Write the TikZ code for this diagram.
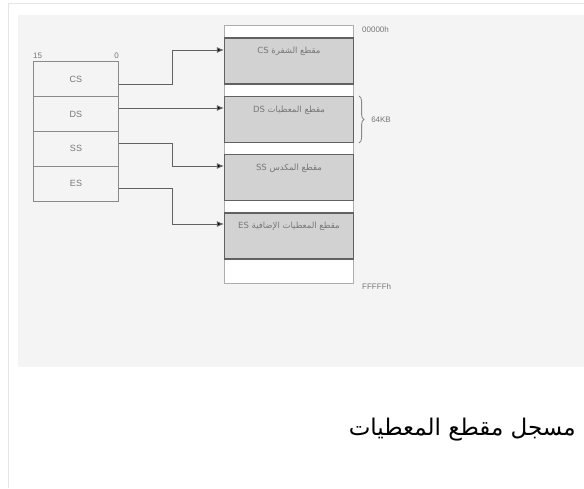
\documentclass[tikz,border=0pt]{standalone}
\usepackage{fontspec}
\setmainfont{Liberation Sans}
\newfontfamily\arabicfont[Script=Arabic]{DejaVu Sans}
\TeXXeTstate=1
\usetikzlibrary{decorations.pathreplacing,arrows.meta}

\definecolor{panelgray}{HTML}{F4F4F4}
\definecolor{seggray}{HTML}{D2D2D2}
\definecolor{linegray}{HTML}{8A8A8A}
\definecolor{textgray}{HTML}{777777}

\tikzset{
  reg/.style={draw=linegray,line width=1pt,fill=panelgray,minimum width=85pt,minimum height=35pt,inner sep=0pt,font=\fontsize{9}{10}\selectfont,text=textgray},
  seg/.style={draw=linegray!70!black,line width=1.1pt,fill=seggray,minimum width=129pt,minimum height=46pt,inner sep=0pt},
  seglabel/.style={font=\arabicfont\fontsize{8.5}{10}\selectfont,text=textgray,inner sep=0pt},
  addr/.style={font=\fontsize{8}{9}\selectfont,text=textgray,anchor=west,inner sep=0pt},
  link/.style={draw=linegray!70!black,line width=1pt,-{Latex[length=7pt,width=6pt,fill=black]}}
}

\begin{document}
\begin{tikzpicture}[x=1pt,y=-1pt]
  \useasboundingbox (0,0) rectangle (584,488);
  \fill[white] (0,0) rectangle (584,488);
  % frame and panel
  \draw[black!10,line width=0.8pt] (8,488) -- (8,3) -- (584,3);
  \fill[panelgray] (18,15) rectangle (584,367);

  % segment registers
  \node[reg] (cs) at (76,79) {CS};
  \node[reg] (ds) at (76,114) {DS};
  \node[reg] (ss) at (76,148.5) {SS};
  \node[reg] (es) at (76,183.5) {ES};
  \node[addr,anchor=south west] (msb) at ([yshift=2pt]cs.north west) {15};
  \node[addr,anchor=south east] (lsb) at ([yshift=2pt]cs.north east) {0};

  % memory column
  \node[draw=linegray!70,line width=1pt,fill=white,minimum width=129pt,minimum height=258pt,inner sep=0pt] (mem) at (289,154.5) {};
  \node[seg] (cseg) at (289,61) {};
  \node[seg] (dseg) at (289,119.5) {};
  \node[seg] (sseg) at (289,177.5) {};
  \node[seg] (eseg) at (289,236) {};
  \node[seglabel] at ([yshift=-14pt]cseg.north) {\beginR مقطع الشفرة \beginL CS\endL\endR};
  \node[seglabel] at ([yshift=-14pt]dseg.north) {\beginR مقطع المعطيات \beginL DS\endL\endR};
  \node[seglabel] at ([yshift=-14pt]sseg.north) {\beginR مقطع المكدس \beginL SS\endL\endR};
  \node[seglabel] at ([yshift=-14pt]eseg.north) {\beginR مقطع المعطيات الإضافية \beginL ES\endL\endR};

  \node[addr] (top) at (362,30) {00000h};
  \node[addr] (bot) at (362,287) {FFFFFh};

  % 64KB brace
  \draw[linegray,line width=0.9pt,decorate,decoration={brace,amplitude=5pt}]
    ([xshift=5pt]dseg.north east) -- ([xshift=5pt]dseg.south east) coordinate[midway,xshift=8pt] (tip);
  \node[addr] (size) at ([xshift=4pt]tip) {64KB};

  % register to segment links
  \draw[link] ([yshift=-5pt]cs.east) -| (172,50) -- (cseg.west |- 0,50);
  \draw[link] ([yshift=6pt]ds.east) -- (dseg.west |- 0,108);
  \draw[link] ([yshift=5.5pt]ss.east) -| (172,166) -- (sseg.west |- 0,166);
  \draw[link] ([yshift=-4.5pt]es.east) -| (172,224) -- (eseg.west |- 0,224);

  % caption
  \node[font=\arabicfont\fontsize{23}{26}\selectfont,anchor=east,inner sep=0pt] (caption) at (576,430) {\beginR مسجل مقطع المعطيات\endR};
\end{tikzpicture}
\end{document}
